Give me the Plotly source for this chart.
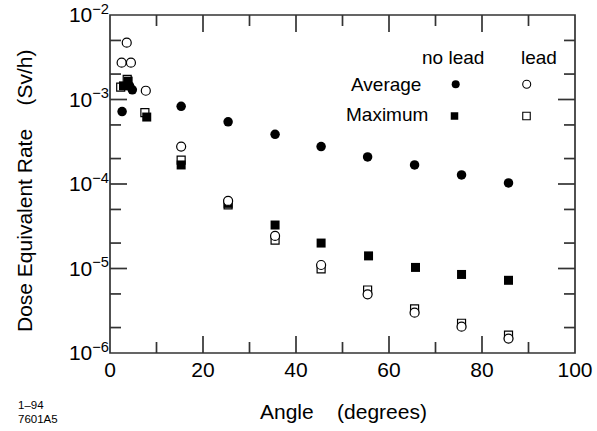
import math
import plotly.graph_objects as go

# ---- data ----
avg_nolead_x = [2.6, 4.2, 4.8, 15.3, 25.4, 35.5, 45.4, 55.4, 65.5, 75.6, 85.7]
avg_nolead_y = [7.2e-4, 1.45e-3, 1.3e-3, 8.3e-4, 5.45e-4, 3.87e-4, 2.77e-4,
                2.09e-4, 1.68e-4, 1.28e-4, 1.03e-4]

max_nolead_x = [2.9, 3.9, 7.9, 15.3, 25.4, 35.5, 45.4, 55.6, 65.7, 75.6, 85.7]
max_nolead_y = [1.45e-3, 1.65e-3, 6.2e-4, 1.68e-4, 5.9e-5, 3.27e-5, 2.0e-5,
                1.41e-5, 1.03e-5, 8.5e-6, 7.25e-6]

avg_lead_x = [2.5, 3.6, 4.5, 7.7, 15.3, 25.4, 35.5, 45.4, 55.4, 65.5, 75.6, 85.7]
avg_lead_y = [2.73e-3, 4.7e-3, 2.73e-3, 1.27e-3, 2.77e-4, 6.3e-5, 2.43e-5,
              1.1e-5, 4.95e-6, 3.0e-6, 2.05e-6, 1.48e-6]

max_lead_x = [2.3, 3.7, 7.5, 15.3, 25.4, 35.5, 45.4, 55.4, 65.5, 75.6, 85.7]
max_lead_y = [1.4e-3, 1.73e-3, 7.0e-4, 1.92e-4, 5.65e-5, 2.17e-5, 9.9e-6,
              5.57e-6, 3.32e-6, 2.25e-6, 1.63e-6]

x_range = [0, 100]
y_range_log = [-6, -2]
x_ticks = [0, 20, 40, 60, 80, 100]
x_minor = [10, 30, 50, 70, 90]
y_ticks = [1e-6, 1e-5, 1e-4, 1e-3, 1e-2]
y_ticktext = ["10<sup>\u22126</sup>", "10<sup>\u22125</sup>", "10<sup>\u22124</sup>",
              "10<sup>\u22123</sup>", "10<sup>\u22122</sup>"]
y_minor = [m * d for d in [1e-6, 1e-5, 1e-4, 1e-3] for m in (2, 5)]

FONT = "Liberation Sans, Arial, Helvetica, sans-serif"

fig = go.Figure()
fig.add_trace(go.Scatter(x=max_lead_x, y=max_lead_y, mode="markers",
                         marker=dict(symbol="square", size=8, color="white",
                                     line=dict(color="black", width=1.2))))
fig.add_trace(go.Scatter(x=max_nolead_x, y=max_nolead_y, mode="markers",
                         marker=dict(symbol="square", size=9, color="black",
                                     line=dict(width=0))))
fig.add_trace(go.Scatter(x=avg_nolead_x, y=avg_nolead_y, mode="markers",
                         marker=dict(symbol="circle", size=9.5, color="black",
                                     line=dict(width=0))))
fig.add_trace(go.Scatter(x=avg_lead_x, y=avg_lead_y, mode="markers",
                         marker=dict(symbol="circle", size=9, color="white",
                                     line=dict(color="black", width=1.2))))

tickfont = dict(family=FONT, size=21, color="black")
LC = "#333333"
LW = 1.7
axis_common = dict(showline=False, ticks="inside", tickcolor="rgba(0,0,0,0)",
                   showgrid=False, zeroline=False, automargin=False)

W, H = 597, 431
L, R, T, B = 110, 22, 15, 78
pw, ph = W - L - R, H - T - B


def px(xp):
    return (xp - L) / pw


def py(yp):
    return (H - B - yp) / ph


ann = []


def text(s, x, y, size, xanchor="center", angle=0):
    ann.append(dict(text=s, x=px(x), y=py(y), xref="paper", yref="paper",
                    xanchor=xanchor, yanchor="middle", showarrow=False,
                    textangle=angle, font=dict(family=FONT, size=size, color="black")))


text("Angle\u00a0\u00a0\u00a0 (degrees)", 343.5, 411, 21)
text("Dose Equivalent Rate\u00a0\u00a0\u00a0 (Sv/h)", 24, 191, 21, angle=-90)
text("no lead", 452.7, 58, 19)
text("lead", 538.5, 58, 19)
text("Average", 386, 84, 19)
text("Maximum", 387, 115, 19)
text("1\u201394", 16, 405, 11.5, xanchor="left")
text("7601A5", 16, 419, 11.5, xanchor="left")

shapes = []


def sym(kind, filled, x, y, s):
    shapes.append(dict(type=kind, xref="paper", yref="paper",
                       xsizemode="pixel", ysizemode="pixel",
                       xanchor=px(x), yanchor=py(y),
                       x0=-s / 2, x1=s / 2, y0=-s / 2, y1=s / 2,
                       fillcolor="black" if filled else "white",
                       line=dict(color="black", width=0 if filled else 1.1)))


sym("circle", True, 455.7, 84.3, 8)
sym("circle", False, 526.7, 84.3, 8)
sym("rect", True, 454.5, 116, 7.5)
sym("rect", False, 526.5, 116, 7.5)

# plot frame
shapes.append(dict(type="rect", xref="paper", yref="paper", x0=0, x1=1, y0=0, y1=1,
                   line=dict(color=LC, width=LW), fillcolor="rgba(0,0,0,0)",
                   layer="above"))


# inside ticks on all four sides, drawn as thin filled bars at the tick values
def xtick(v, length):
    xf = (v - x_range[0]) / (x_range[1] - x_range[0])
    for anchor, sgn in ((0, 1), (1, -1)):
        shapes.append(dict(type="rect", xref="paper", yref="paper",
                           xsizemode="pixel", ysizemode="pixel",
                           xanchor=xf, yanchor=anchor,
                           x0=-LW / 2, x1=LW / 2, y0=0, y1=sgn * length,
                           fillcolor=LC, line=dict(width=0), layer="above"))


def ytick(v, length):
    yf = (math.log10(v) - y_range_log[0]) / (y_range_log[1] - y_range_log[0])
    for anchor, sgn in ((0, 1), (1, -1)):
        shapes.append(dict(type="rect", xref="paper", yref="paper",
                           xsizemode="pixel", ysizemode="pixel",
                           xanchor=anchor, yanchor=yf,
                           x0=0, x1=sgn * length, y0=-LW / 2, y1=LW / 2,
                           fillcolor=LC, line=dict(width=0), layer="above"))


for v in x_ticks[1:-1]:
    xtick(v, 17)
for v in x_minor:
    xtick(v, 11)
for v in y_ticks[1:-1]:
    ytick(v, 17)
for v in y_minor:
    ytick(v, 11)

fig.update_layout(width=W, height=H, margin=dict(l=L, r=R, t=T, b=B),
                  paper_bgcolor="white", plot_bgcolor="white", showlegend=False,
                  annotations=ann, shapes=shapes,
                  font=dict(family=FONT, color="black"),
                  xaxis=dict(range=x_range, tickmode="array", tickvals=x_ticks,
                             ticklen=17, tickfont=tickfont, ticklabelstandoff=2,
                             **axis_common),
                  yaxis=dict(type="log", range=y_range_log, tickmode="array",
                             tickvals=y_ticks, ticktext=y_ticktext, ticklen=17,
                             tickfont=tickfont, **axis_common))

fig.write_html("out.html", config={"displayModeBar": False, "staticPlot": True},
               post_script="document.body.style.margin='0';"
                           "document.body.style.overflow='hidden';")
